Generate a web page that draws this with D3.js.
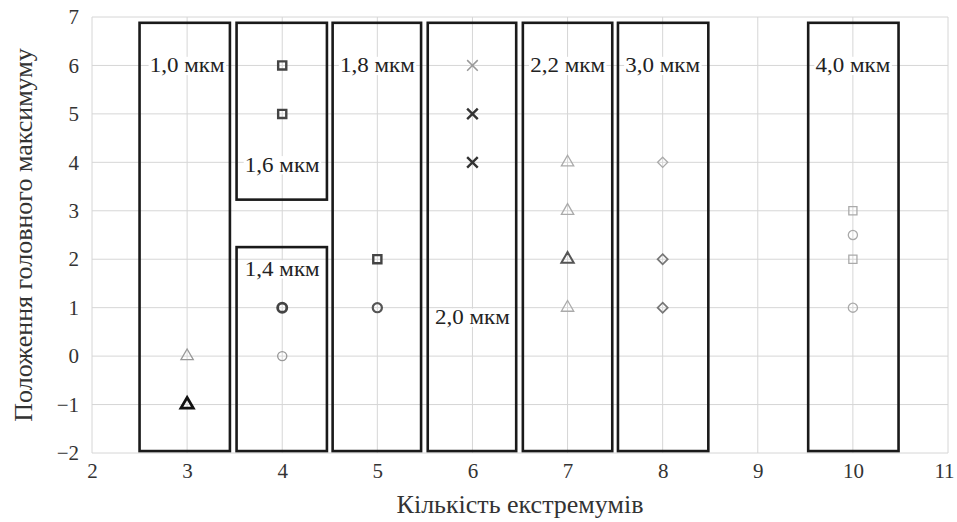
<!DOCTYPE html>
<html>
<head>
<meta charset="utf-8">
<script src="https://cdn.jsdelivr.net/npm/d3@7"></script>
<style>
  body { margin: 0; background: #fff; }
  svg text { font-family: "Liberation Serif", "Times New Roman", "DejaVu Serif", serif; }
</style>
</head>
<body>
<div id="chart"></div>
<script>
// axis ticks
const xTicks = [2, 3, 4, 5, 6, 7, 8, 9, 10, 11];
const yTicks = [-2, -1, 0, 1, 2, 3, 4, 5, 6, 7];

// groups of wavelengths (boxes): label, box x range, box y range, label position
const boxLabels = ["1,0 мкм", "1,6 мкм", "1,4 мкм", "1,8 мкм", "2,0 мкм", "2,2 мкм", "3,0 мкм", "4,0 мкм"];
const boxX0 = [2.5, 3.52, 3.52, 4.53, 5.53, 6.53, 7.53, 9.53];
const boxX1 = [3.45, 4.47, 4.47, 5.46, 6.46, 7.47, 8.48, 10.48];
const boxY0 = [-1.96, 3.23, -1.96, -1.96, -1.96, -1.96, -1.96, -1.96];
const boxY1 = [6.88, 6.88, 2.25, 6.88, 6.88, 6.88, 6.88, 6.88];
const labelX = [3, 4, 4, 5, 6.0, 7, 8, 10];
const labelY = [6, 3.95, 1.8, 6, 0.8, 6, 6, 6];

// points: number of extrema -> position of main maximum
const tri3Light = { x: 3, y: [0] };
const tri3Dark = { x: 3, y: [-1] };
const sq4 = { x: 4, y: [6, 5] };
const circ4Dark = { x: 4, y: [1] };
const circ4Light = { x: 4, y: [0] };
const sq5 = { x: 5, y: [2] };
const circ5 = { x: 5, y: [1] };
const cross6Light = { x: 6, y: [6] };
const cross6Dark = { x: 6, y: [5, 4] };
const tri7Light = { x: 7, y: [4, 3, 1] };
const tri7Dark = { x: 7, y: [2] };
const dia8Light = { x: 8, y: [4] };
const dia8Mid = { x: 8, y: [2, 1] };
const sq10 = { x: 10, y: [3, 2] };
const circ10 = { x: 10, y: [2.5, 1] };

const series = [
  { d: tri3Light, shape: d3.symbolTriangle, color: "#999", sw: 1.3 },
  { d: tri3Dark, shape: d3.symbolTriangle, color: "#111", sw: 2.8 },
  { d: sq4, shape: d3.symbolSquare, color: "#444", sw: 2.4 },
  { d: circ4Dark, shape: d3.symbolCircle, color: "#444", sw: 2.8 },
  { d: circ4Light, shape: d3.symbolCircle, color: "#999", sw: 1.3 },
  { d: sq5, shape: d3.symbolSquare, color: "#444", sw: 2.4 },
  { d: circ5, shape: d3.symbolCircle, color: "#555", sw: 2.2 },
  { d: cross6Light, shape: d3.symbolX, color: "#999", sw: 1.5 },
  { d: cross6Dark, shape: d3.symbolX, color: "#333", sw: 2.4 },
  { d: tri7Light, shape: d3.symbolTriangle, color: "#aaa", sw: 1.3 },
  { d: tri7Dark, shape: d3.symbolTriangle, color: "#555", sw: 2 },
  { d: dia8Light, shape: d3.symbolDiamond2, color: "#aaa", sw: 1.3 },
  { d: dia8Mid, shape: d3.symbolDiamond2, color: "#777", sw: 1.7 },
  { d: sq10, shape: d3.symbolSquare, color: "#aaa", sw: 1.3 },
  { d: circ10, shape: d3.symbolCircle, color: "#aaa", sw: 1.3 }
];

const width = 957,
  height = 522,
  margin = { top: 17, right: 9, bottom: 69, left: 92 };

const x = d3.scaleLinear().domain([2, 11]).range([margin.left, width - margin.right]);
const y = d3.scaleLinear().domain([-2, 7]).range([height - margin.bottom, margin.top]);

const svg = d3.select("#chart")
  .append("svg")
  .attr("width", width)
  .attr("height", height);

// grid
svg.append("g")
  .attr("stroke", "#d6d6d6")
  .attr("stroke-width", 1)
  .selectAll("line")
  .data(xTicks)
  .join("line")
  .attr("x1", d => x(d)).attr("x2", d => x(d))
  .attr("y1", y(-2)).attr("y2", y(7));

svg.append("g")
  .attr("stroke", "#d6d6d6")
  .attr("stroke-width", 1)
  .selectAll("line")
  .data(yTicks)
  .join("line")
  .attr("y1", d => y(d)).attr("y2", d => y(d))
  .attr("x1", x(2)).attr("x2", x(11));

// axes (labels only)
const xAxis = svg.append("g")
  .attr("transform", `translate(0,${y(-2)})`)
  .call(d3.axisBottom(x).tickValues(xTicks).tickSize(0).tickPadding(10));
const yAxis = svg.append("g")
  .attr("transform", `translate(${x(2)},0)`)
  .call(d3.axisLeft(y).tickValues(yTicks).tickSize(0).tickPadding(13));
[xAxis, yAxis].forEach(a => {
  a.attr("font-family", null);
  a.select(".domain").remove();
  a.selectAll("text")
    .attr("font-size", 21)
    .attr("fill", "#333");
});
xAxis.selectAll("text").filter(d => d === 11).attr("dx", -4);

// boxes
const boxes = d3.range(boxLabels.length);
svg.append("g")
  .attr("fill", "none")
  .attr("stroke", "#1a1a1a")
  .attr("stroke-width", 2.6)
  .selectAll("rect")
  .data(boxes)
  .join("rect")
  .attr("x", i => x(boxX0[i]))
  .attr("y", i => y(boxY1[i]))
  .attr("width", i => x(boxX1[i]) - x(boxX0[i]))
  .attr("height", i => y(boxY0[i]) - y(boxY1[i]));

// box labels with white background
const lbl = svg.append("g")
  .selectAll("g")
  .data(boxes)
  .join("g")
  .attr("transform", i => `translate(${x(labelX[i])},${y(labelY[i])}) scale(1.15,1)`);
lbl.append("text")
  .attr("text-anchor", "middle")
  .attr("dy", "0.35em")
  .attr("font-size", 20)
  .attr("fill", "#222")
  .text(i => boxLabels[i])
  .each(function () {
    const b = this.getBBox();
    d3.select(this.parentNode).insert("rect", "text")
      .attr("x", b.x - 1).attr("y", b.y + 2)
      .attr("width", b.width + 2).attr("height", b.height - 4)
      .attr("fill", "#fff");
  });

// markers
series.forEach(s => {
  svg.append("g")
    .attr("fill", "none")
    .attr("stroke", s.color)
    .attr("stroke-width", s.sw)
    .selectAll("path")
    .data(s.d.y)
    .join("path")
    .attr("transform", v => `translate(${x(s.d.x)},${y(v)})`)
    .attr("d", d3.symbol().type(s.shape).size(s.shape === d3.symbolX ? 75 : 66));
});

// axis titles
svg.append("text")
  .attr("x", (x(2) + x(11)) / 2)
  .attr("y", 513)
  .attr("text-anchor", "middle")
  .attr("font-size", 26)
  .attr("fill", "#333")
  .text("Кількість екстремумів");

svg.append("text")
  .attr("transform", `translate(32,${(y(-2) + y(7)) / 2}) rotate(-90)`)
  .attr("text-anchor", "middle")
  .attr("font-size", 26)
  .attr("fill", "#333")
  .text("Положення головного максимуму");
</script>
</body>
</html>
